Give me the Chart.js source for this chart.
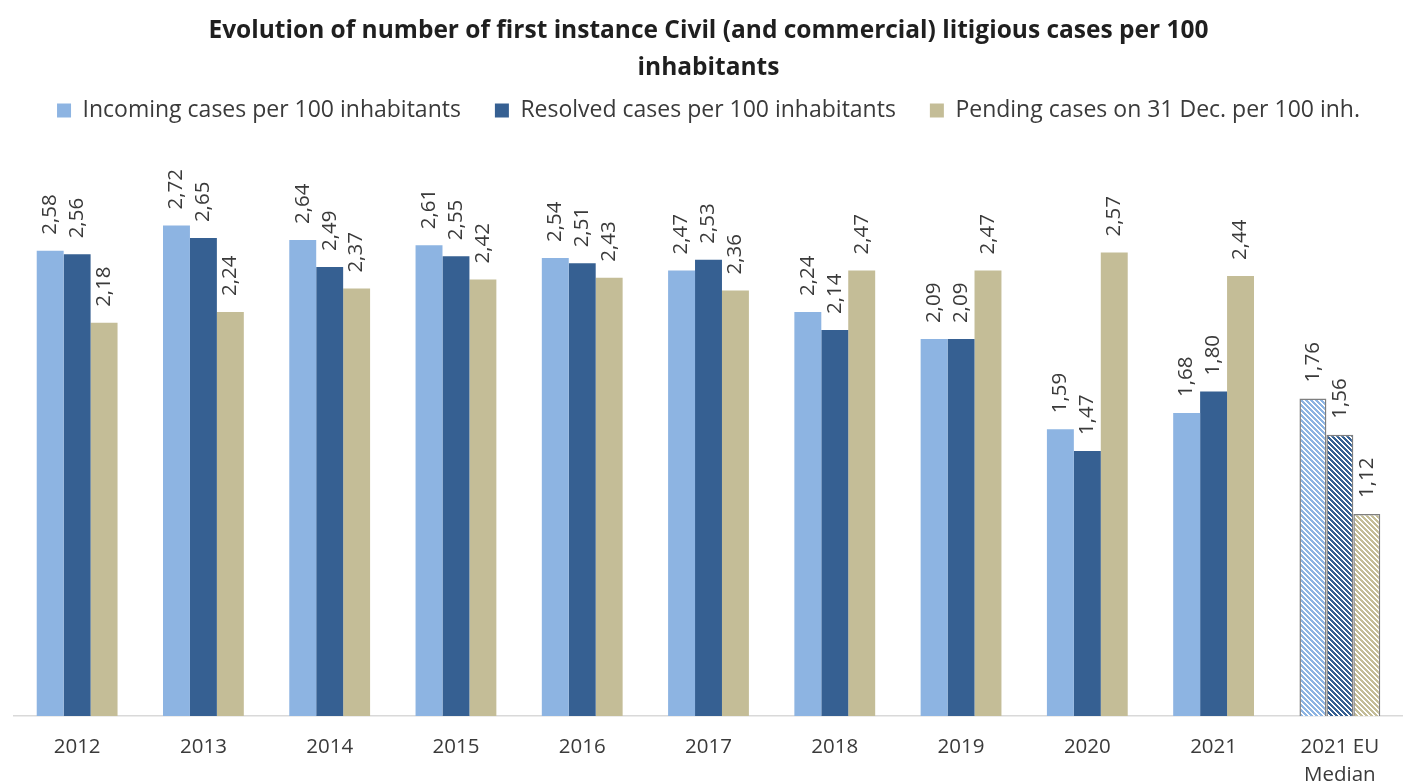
<!DOCTYPE html>
<html><head><meta charset="utf-8">
<script src="https://cdn.jsdelivr.net/npm/chart.js@4.4.1/dist/chart.umd.min.js"></script>
<style>html,body{margin:0;padding:0;background:#fff;}</style>
</head><body>
<canvas id="c" width="1403" height="783"></canvas>
<script>
const categories = ['2012','2013','2014','2015','2016','2017','2018','2019','2020','2021',['2021 EU','Median']];
const incoming = [2.58,2.72,2.64,2.61,2.54,2.47,2.24,2.09,1.59,1.68,1.76];
const resolved = [2.56,2.65,2.49,2.55,2.51,2.53,2.14,2.09,1.47,1.80,1.56];
const pending  = [2.18,2.24,2.37,2.42,2.43,2.36,2.47,2.47,2.57,2.44,1.12];
const seriesNames = ['Incoming cases per 100 inhabitants','Resolved cases per 100 inhabitants','Pending cases on 31 Dec. per 100 inh.'];
const titleLines = ['Evolution of number of first instance Civil (and commercial) litigious cases per 100','inhabitants'];
const hatchedIndex = 10;

const solid = ['#8DB4E2','#366092','#C4BD97'];
const FONT = '"Open Sans", Lato, sans-serif';

function stripePattern(color){
  const s = 5;
  const cv = document.createElement('canvas'); cv.width = s; cv.height = s;
  const g = cv.getContext('2d');
  g.fillStyle = '#fff'; g.fillRect(0,0,s,s);
  g.fillStyle = color;
  for (let y=0;y<s;y++) for (let x=0;x<s;x++) { if ((((x-y)%s)+s)%s < 3) g.fillRect(x,y,1,1); }
  return g.createPattern(cv,'repeat');
}
const patterns = solid.map(stripePattern);

const fmt = v => v.toFixed(2).replace('.', ',');

const barLabels = {
  id:'barLabels',
  afterDatasetsDraw(chart){
    const ctx = chart.ctx;
    ctx.save();
    ctx.font = '20.5px ' + FONT;
    ctx.fillStyle = '#3a3a3a';
    ctx.textAlign = 'left';
    ctx.textBaseline = 'middle';
    chart.data.datasets.forEach((ds,di)=>{
      const meta = chart.getDatasetMeta(di);
      meta.data.forEach((bar,i)=>{
        ctx.save();
        ctx.translate(bar.x, bar.y - 16);
        ctx.rotate(-Math.PI/2);
        ctx.fillText(fmt(ds.data[i]), 0, 0);
        ctx.restore();
      });
    });
    ctx.restore();
  }
};

const legendSpacer = {
  id:'legendSpacer',
  beforeLayout(chart){
    const lg = chart.legend;
    if (lg && !lg._patched){
      const orig = Object.getPrototypeOf(lg).fit;
      lg.fit = function(){ orig.call(this); this.height += 43; };
      lg._patched = true;
    }
  }
};

function mk(i, data){
  return {
    label: seriesNames[i],
    data: data,
    backgroundColor: c => c.dataIndex === hatchedIndex ? patterns[i] : solid[i],
    borderColor: c => c.dataIndex === hatchedIndex ? '#7F7F7F' : solid[i],
    borderWidth: c => c.dataIndex === hatchedIndex ? 1.5 : 0,
    categoryPercentage: 0.64,
    barPercentage: 1.0
  };
}

new Chart(document.getElementById('c'), {
  type:'bar',
  data:{ labels: categories, datasets:[mk(0,incoming), mk(1,resolved), mk(2,pending)] },
  options:{
    responsive:false,
    animation:false,
    layout:{ padding:{ left:14, right:0, top:0, bottom:0 } },
    plugins:{
      tooltip:{ enabled:false },
      title:{
        display:true,
        text: titleLines,
        color:'#1f1f1f',
        font:{ family: FONT, size:24.5, weight:'bold', lineHeight:'37px' },
        padding:{ top:13, bottom:-22 }
      },
      legend:{
        display:true,
        labels:{
          boxWidth:14, boxHeight:14, padding:34,
          color:'#3a3a3a',
          font:{ family: FONT, size:23 },
          generateLabels: chart => chart.data.datasets.map((ds,i)=>({
            text: ds.label, fillStyle: solid[i], strokeStyle: solid[i], lineWidth:0,
            hidden:false, datasetIndex:i, fontColor:'#3a3a3a'
          }))
        }
      }
    },
    scales:{
      x:{
        grid:{ display:false, drawTicks:false },
        border:{ display:true, color:'#D9D9D9', width:1.5 },
        ticks:{ color:'#3a3a3a', font:{ family: FONT, size:20.5, lineHeight:'28px' }, padding:17, maxRotation:0, autoSkip:false },
        afterFit: s => { s.height = 67; }
      },
      y:{ display:false, min:0, max:3 }
    }
  },
  plugins:[barLabels, legendSpacer]
});
</script>
</body></html>
